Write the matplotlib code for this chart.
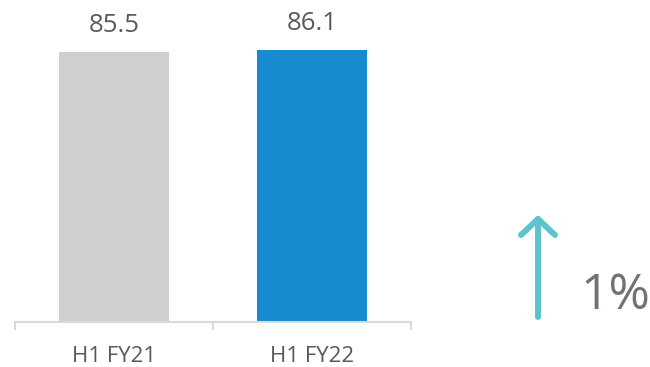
import matplotlib.pyplot as plt
from matplotlib.lines import Line2D

# Data
categories = ["H1 FY21", "H1 FY22"]
values = [85.5, 86.1]
bar_colors = ["#D0CECF", "#168BD0"]
change_label = "1%"

plt.rcParams['font.family'] = ['Open Sans', 'DejaVu Sans']

W, H = 650, 367
fig = plt.figure(figsize=(W / 100, H / 100), dpi=100)
# axes spans x 15..411 px, y baseline at 322 px
ax = fig.add_axes([15 / W, 1 - 322 / H, 396 / W, 302 / H])

x = range(len(categories))
ax.bar(x, values, width=0.56, color=bar_colors)
for xi, v in zip(x, values):
    ax.text(xi, v + 4.3, f"{v}", ha="center", va="bottom", fontsize=18.5, color="#595959")

ax.set_xlim(-0.5, 1.5)
ax.set_ylim(0, 95.6)
ax.set_yticks([])
for s in ["top", "right", "left"]:
    ax.spines[s].set_visible(False)
ax.spines["bottom"].set_color("#D9D9D9")
ax.spines["bottom"].set_linewidth(1.5)

# category ticks at the boundaries, labels centred
ax.set_xticks([-0.5, 0.5, 1.5])
ax.set_xticklabels([])
ax.tick_params(axis="x", length=6, width=1.5, color="#D9D9D9")
ax.set_xticks(list(x), minor=True)
ax.set_xticklabels(categories, minor=True, fontsize=16, color="#595959")
ax.tick_params(axis="x", which="minor", length=0, pad=17)

# up arrow + change label (figure coords)
arrow_color = "#5BC5CB"
def fx(px):
    return px / W
def fy(py):
    return 1 - py / H

fig.add_artist(Line2D([fx(538), fx(538)], [fy(317), fy(219)], color=arrow_color,
                      lw=4.3, solid_capstyle="round"))
fig.add_artist(Line2D([fx(521), fx(538), fx(555)], [fy(235), fy(219), fy(235)],
                      color=arrow_color, lw=4.3, solid_capstyle="round",
                      solid_joinstyle="round"))
fig.text(fx(615), fy(296), change_label, ha="center", va="center", fontsize=36,
         color="#767171")

fig.savefig("out.png", dpi=100)
